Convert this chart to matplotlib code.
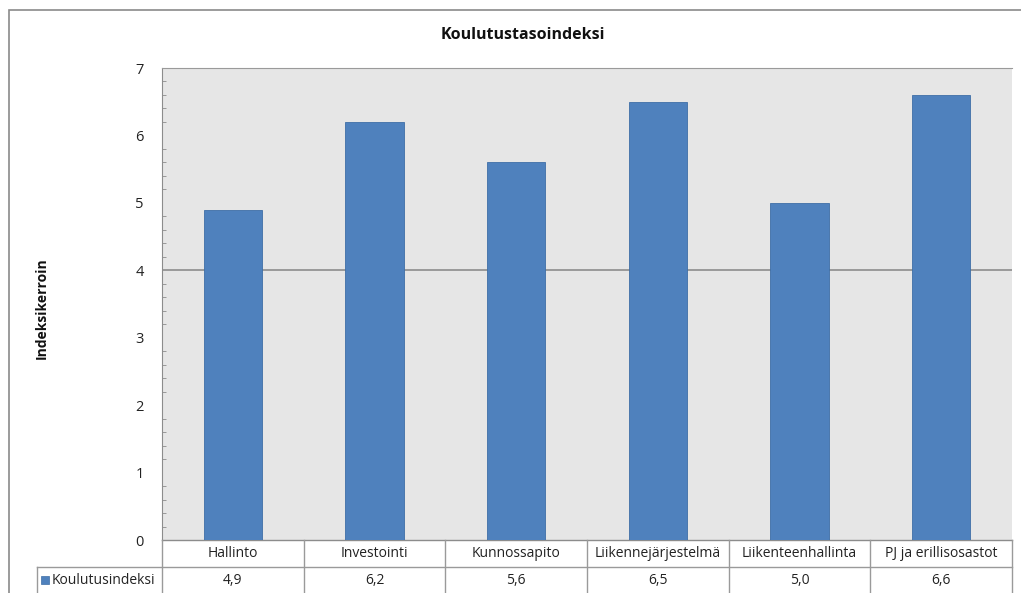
import matplotlib
matplotlib.use("Agg")
import matplotlib.pyplot as plt
from matplotlib.lines import Line2D
from matplotlib.patches import Rectangle
import matplotlib.transforms as mtransforms

categories = ["Hallinto", "Investointi", "Kunnossapito", "Liikennejärjestelmä",
              "Liikenteenhallinta", "PJ ja erillisosastot"]
values = [4.9, 6.2, 5.6, 6.5, 5.0, 6.6]
value_labels = ["4,9", "6,2", "5,6", "6,5", "5,0", "6,6"]
series_name = "Koulutusindeksi"
title = "Koulutustasoindeksi"
ylabel = "Indeksikerroin"

plt.rcParams['font.family'] = ['Open Sans', 'DejaVu Sans']

W, H = 1021, 593
fig = plt.figure(figsize=(W / 100, H / 100), dpi=100)
fig.patch.set_facecolor("white")

def fx(px):
    return px / W

def fy(py):
    return 1 - py / H

# Outer chart frame
fig.add_artist(Rectangle((fx(9), fy(600)), fx(1030) - fx(9), fy(10) - fy(600),
                         transform=fig.transFigure, fill=False,
                         edgecolor="#8a8a8a", linewidth=1.2))

left, right, top, bottom = 162, 1012, 68, 540
ax = fig.add_axes([fx(left), fy(bottom), fx(right) - fx(left), fy(top) - fy(bottom)])
ax.set_facecolor("#e6e6e6")

x = list(range(len(categories)))
ax.bar(x, values, width=0.41, color="#4f81bd", edgecolor="#3e6ea6", linewidth=0.6, zorder=3)
ax.axhline(4, color="#8c8c8c", linewidth=1.2, zorder=2)

ax.set_xlim(-0.5, len(categories) - 0.5)
ax.set_ylim(0, 7)
ax.set_yticks(range(0, 8))
ax.set_yticks([i * 0.2 for i in range(36)], minor=True)
ax.tick_params(axis="y", which="major", length=0, pad=13, labelsize=10.5, labelcolor="#222222")
ax.tick_params(axis="y", which="minor", length=3, color="#8c8c8c", direction="in")
ax.tick_params(axis="x", length=0, labelbottom=False)
ax.spines["right"].set_visible(False)
ax.spines["top"].set_color("#9a9a9a")
ax.spines["left"].set_color("#8c8c8c")
ax.spines["bottom"].set_color("#8c8c8c")
ax.spines["bottom"].set_linewidth(1.0)

fig.text(fx(523), fy(35), title, ha="center", va="center", fontsize=11.5,
         fontweight="bold", color="#111111")
fig.text(fx(42), fy(308), ylabel, ha="center", va="center", rotation=90,
         fontsize=10, fontweight="bold", color="#111111")

# Data table beneath the axis
blend = mtransforms.blended_transform_factory(ax.transData, fig.transFigure)
row1_top, row1_bot, row2_bot = 540, 567, 593
line_kw = dict(color="#9a9a9a", linewidth=1.0)
for i in range(len(categories) + 1):
    xb = i - 0.5
    fig.add_artist(Line2D([xb, xb], [fy(row1_top), fy(row2_bot)], transform=blend, **line_kw))
fig.add_artist(Line2D([fx(37), fx(right)], [fy(row1_bot), fy(row1_bot)],
                      transform=fig.transFigure, **line_kw))
fig.add_artist(Line2D([fx(37), fx(37)], [fy(row1_bot), fy(row2_bot)],
                      transform=fig.transFigure, **line_kw))
for i, (c, v) in enumerate(zip(categories, value_labels)):
    fig.text(i, fy((row1_top + row1_bot) / 2), c, transform=blend, ha="center",
             va="center", fontsize=10, color="#222222")
    fig.text(i, fy((row1_bot + row2_bot) / 2), v, transform=blend, ha="center",
             va="center", fontsize=10, color="#222222")

# Legend key in the table's first column
fig.add_artist(Rectangle((fx(41), fy(584)), fx(49) - fx(41), fy(576) - fy(584),
                         transform=fig.transFigure, facecolor="#4f81bd",
                         edgecolor="#3e6ea6", linewidth=0.5))
fig.text(fx(52), fy(580), series_name, ha="left", va="center", fontsize=10, color="#222222")

fig.savefig("out.png", dpi=100, facecolor="white")
